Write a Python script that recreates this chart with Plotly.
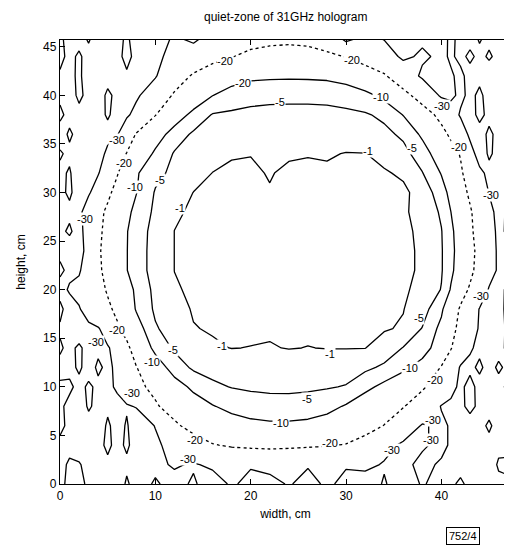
import plotly.graph_objects as go

# grid positions (cm): finer columns in the noisy side strips
x_cm = [0, 1, 2, 3, 4, 5, 6, 7, 8, 10, 12, 14, 16, 18, 20, 22, 24, 26, 28, 30, 32, 34, 36, 38,
        40, 41, 42, 43, 44, 45, 46, 47, 48]
y_cm = [0, 2, 4, 6, 8, 10, 12, 14, 16, 18, 20, 22, 24, 26, 28, 30, 32, 34, 36, 38, 40, 42, 44, 46]

# relative field level (dB), one row per height y_cm
level_db = [
    [-31, -29, -28.5, -31, -32, -31.5, -33, -29.3, -32, -29.5, -31.5, -29.4, -32.5, -29.3, -31.5, -32, -29.5, -32, -29, -31.5, -33, -29.5, -33, -29.5, -32, -31, -29, -31.5, -32, -30.5, -31, -31, -32],
    [-32, -29, -29.5, -32, -32, -31, -33, -31, -31.5, -31, -29.5, -30.5, -29, -28.5, -29.5, -28, -28.5, -29.5, -28, -29.5, -28.5, -30.5, -31, -29, -30.5, -31.5, -32, -31, -31, -32, -29.5, -28.8, -32],
    [-31, -32, -33, -31.5, -31.5, -29, -31.5, -29.2, -32, -31, -28, -24, -20.5, -19, -18.2, -18, -18.3, -18.8, -19.5, -20.4, -23, -28, -31, -30.5, -29, -30.5, -31.5, -32, -33, -31.5, -31, -32, -30],
    [-29, -31, -31, -32, -33, -29.2, -32, -29.5, -33, -29.8, -21.5, -17, -14, -12.5, -11.5, -11, -11, -11.5, -12.5, -14, -17, -20.2, -26, -30.5, -29, -30.5, -31, -32, -31.5, -29.2, -32, -31, -30],
    [-29, -31.5, -33, -29.3, -31.5, -31, -32, -30.5, -29.7, -21, -16.3, -12.8, -10.3, -8.5, -7.3, -6.8, -6.7, -7, -8.3, -10.5, -13.5, -16.5, -19.5, -25, -30.3, -31, -31, -28.8, -31, -32, -33, -31, -29],
    [-29.5, -29, -31.5, -29.2, -31, -31.5, -29, -26, -22, -17.9, -12.5, -8.8, -6, -4.8, -4.3, -4.1, -4.1, -4.3, -4.6, -5.3, -8.5, -11.5, -15, -18.8, -25, -28.5, -31, -28.5, -31.5, -32, -31.5, -29, -31],
    [-31, -31.5, -29.2, -32, -29.2, -31, -29, -25, -20.3, -13.3, -7.5, -4.2, -3.2, -2.8, -2.6, -2.5, -2.5, -2.5, -2.6, -2.8, -4, -5.8, -8.5, -12.7, -20.5, -26, -30.5, -31, -29.2, -31.5, -29.3, -31, -29.5],
    [-29.5, -31, -29.3, -31.5, -31, -30.5, -28, -22, -16, -8.4, -4.3, -2.5, -1.3, -0.95, -1.05, -1.15, -0.9, -1.05, -0.92, -0.92, -0.95, -2.3, -5.2, -6.8, -14, -19.5, -26, -29.5, -31, -32, -31.5, -29, -32],
    [-30.5, -31.5, -32.5, -31.5, -30.5, -27, -21, -17, -12.8, -5.5, -2.8, -1.1, -0.8, -0.7, -0.6, -0.7, -0.6, -0.6, -0.6, -0.6, -0.7, -0.75, -1.3, -5.2, -11.5, -16.5, -23, -27.5, -30.5, -32, -31.5, -29.2, -31],
    [-29, -32, -30.5, -27, -24, -21.3, -18.5, -14, -9.5, -4.2, -1.9, -0.8, -0.6, -0.5, -0.4, -0.4, -0.4, -0.4, -0.4, -0.5, -0.5, -0.6, -0.9, -2.9, -9, -15, -21, -25.5, -30.3, -31.5, -31, -29.2, -30.5],
    [-31.5, -29.5, -28, -25, -22.3, -19.3, -16, -12.3, -9, -3.7, -1.2, -0.7, -0.5, -0.4, -0.35, -0.3, -0.3, -0.3, -0.3, -0.35, -0.4, -0.5, -0.7, -1.6, -5.2, -10.5, -16.5, -21, -25.5, -30.5, -31.5, -29, -31.5],
    [-29.2, -31, -30.8, -26, -21.5, -17.5, -13.5, -10.2, -7, -3.4, -0.98, -0.7, -0.5, -0.4, -0.3, -0.3, -0.2, -0.2, -0.3, -0.3, -0.4, -0.5, -0.7, -1.2, -4.6, -8.8, -13, -18, -23, -27.5, -30.8, -32, -31],
    [-31, -32.5, -33, -27, -21, -17.3, -13.6, -10.2, -7, -3.4, -0.98, -0.7, -0.5, -0.4, -0.3, -0.3, -0.2, -0.2, -0.3, -0.3, -0.4, -0.5, -0.7, -1.2, -4.6, -8.5, -12.5, -17.5, -22.4, -27, -31, -32, -29],
    [-31, -29.3, -32, -27, -21.8, -17.5, -13.6, -10.3, -7.2, -3.5, -0.98, -0.7, -0.5, -0.4, -0.3, -0.3, -0.3, -0.3, -0.3, -0.4, -0.4, -0.5, -0.7, -1.3, -4.8, -8.8, -13, -18.3, -23.6, -28, -31, -29.3, -31.5],
    [-31.5, -31, -32, -25.5, -22, -18.7, -15.5, -11.5, -8.3, -4.1, -1.3, -0.7, -0.6, -0.5, -0.4, -0.4, -0.3, -0.3, -0.4, -0.4, -0.5, -0.6, -0.8, -1.5, -5.7, -10, -14.4, -19, -24, -28.5, -31.5, -29.2, -31],
    [-31, -29.3, -32, -31, -25.8, -21.5, -17.7, -14, -10.2, -4.6, -2.7, -0.95, -0.7, -0.6, -0.5, -0.9, -0.4, -0.4, -0.4, -0.5, -0.5, -0.6, -0.6, -1.8, -7.9, -11.5, -16.5, -21.5, -25.6, -30.2, -31.5, -32, -30.5],
    [-31, -29.5, -33, -32, -30.5, -25.5, -20.5, -15.5, -10.6, -6.3, -3.9, -2.2, -0.95, -0.8, -0.75, -1.1, -0.7, -0.6, -0.6, -0.6, -0.7, -0.8, -1.3, -4.8, -10.3, -14.5, -18.7, -24, -29, -31, -32, -31, -29],
    [-29.5, -31, -31, -32, -33, -28.5, -24.4, -19.7, -15.6, -8.9, -4.6, -3, -2, -1.1, -1.05, -1.5, -1.2, -1.1, -1.25, -0.9, -0.95, -1.6, -3.5, -7.5, -13.3, -17, -20.5, -28, -32, -29.5, -31, -31.5, -31],
    [-32, -29.3, -31.5, -30.5, -31, -32, -30.5, -25, -19.5, -13.2, -7.4, -4.3, -3.5, -3, -2.8, -2.7, -2.6, -2.6, -2.6, -2.5, -2.9, -3.8, -5.9, -11, -17.4, -21.5, -27, -31, -31.5, -29.3, -31, -32, -31],
    [-29, -31.5, -31, -31.5, -32, -29.3, -32, -31, -28, -20.3, -13.5, -8.3, -4.7, -4.2, -3.9, -3.8, -3.8, -3.8, -3.9, -4.1, -4.5, -6, -10.2, -15.7, -22.5, -27.5, -30.5, -31.5, -29, -31, -32, -31.5, -30],
    [-31, -31.5, -29.3, -31, -32, -29.2, -31, -32, -31, -26, -19, -14.4, -10.1, -7.8, -6.5, -6.1, -6, -6, -6.1, -6.8, -8.5, -11.4, -17.1, -24, -31, -31, -29, -31, -29.2, -31.5, -32, -29.3, -31],
    [-30.5, -31, -29.3, -32, -31, -31.5, -32, -30.5, -33, -30.5, -24.3, -19, -15, -12.5, -11.2, -10.9, -10.8, -10.9, -11.2, -12.5, -15, -19, -26, -31, -31, -30.5, -29, -31.5, -31, -32, -32, -31, -29],
    [-29, -31, -29.4, -31.5, -32, -31, -31, -29, -31, -31, -28.6, -25.7, -22.9, -20.3, -18, -17, -16.8, -17.2, -18.5, -20.3, -24, -27.3, -31, -29.2, -31, -29.4, -31, -29.2, -31, -29.5, -31, -30.5, -32],
    [-29.5, -31, -31.5, -29.3, -32, -31.5, -31, -29.5, -31.5, -32, -29.5, -32, -27.5, -25, -23.5, -22.5, -22, -22.5, -24.5, -33, -29, -30.5, -32, -31, -31.5, -29.2, -31, -31.5, -29.5, -31, -32, -29.5, -31],
]

solid_levels = [-30, -10, -5, -1]
dotted_levels = [-20]

# contour labels as printed on the reference (position in cm, text)
label_x = [17.3, 30.6, 19.2, 33.7, 23.1, 40.1, 6.0, 32.3, 36.9, 41.8, 6.7, 7.9, 10.5, 45.2, 2.6, 12.6,
           44.2, 6.0, 3.8, 17.0, 11.8, 28.3, 37.7, 9.7, 36.7, 39.3, 7.5, 25.9, 23.2, 39.1, 14.2, 28.3,
           38.9, 34.8, 13.4]
label_y = [43.5, 43.6, 41.3, 39.8, 39.3, 38.9, 35.4, 34.3, 34.6, 34.7, 33.0, 30.6, 31.3, 29.7, 27.3, 28.4,
           19.3, 15.8, 14.6, 14.2, 13.8, 13.4, 17.1, 12.6, 11.9, 10.7, 9.4, 8.8, 6.3, 6.6, 4.5, 4.2,
           4.5, 3.5, 2.6]
label_text = ["-20", "-20", "-20", "-10", "-5", "-30", "-30", "-1", "-5", "-20", "-20", "-10", "-5", "-30", "-30", "-1",
              "-30", "-20", "-30", "-1", "-5", "-1", "-5", "-10", "-10", "-20", "-30", "-5", "-10", "-30", "-20", "-20",
              "-30", "-30", "-30"]

x_ticks = [0, 10, 20, 30, 40]
y_ticks = [0, 5, 10, 15, 20, 25, 30, 35, 40, 45]

FONT = "Liberation Sans, Arial, Helvetica, sans-serif"

fig = go.Figure()


def add_level(lvl, dash):
    fig.add_trace(go.Contour(
        x=x_cm, y=y_cm, z=level_db,
        autocontour=False,
        contours=dict(start=lvl, end=lvl, size=1, coloring="none", showlabels=False),
        line=dict(color="black", width=1.3, dash=dash, smoothing=0),
        showscale=False, hoverinfo="skip",
    ))


for lvl in solid_levels:
    add_level(lvl, "solid")
for lvl in dotted_levels:
    add_level(lvl, "dot")

annotations = [
    dict(x=lx, y=ly, xref="x", yref="y", text=lt, showarrow=False,
         font=dict(family=FONT, size=11, color="black"),
         bgcolor="white", borderpad=0, xanchor="center", yanchor="middle")
    for lx, ly, lt in zip(label_x, label_y, label_text)
]
annotations.append(dict(text="752/4", xref="paper", yref="paper", x=0.894, y=-0.117,
                        xanchor="center", yanchor="middle", showarrow=False,
                        font=dict(family=FONT, size=11, color="black"),
                        bordercolor="black", borderwidth=1, borderpad=2, bgcolor="white"))

axis_common = dict(
    showline=True, linecolor="black", linewidth=1.3, mirror="ticks",
    ticks="inside", ticklen=5, tickwidth=1, tickcolor="black",
    showgrid=False, zeroline=False,
    tickfont=dict(family=FONT, size=12, color="black"),
)

fig.update_layout(
    width=504, height=538,
    margin=dict(l=52, r=1, t=32, b=62),
    paper_bgcolor="white", plot_bgcolor="white",
    showlegend=False,
    title=dict(text="quiet-zone of 31GHz hologram", x=0.551, xanchor="center",
               y=0.984, yanchor="middle",
               font=dict(family=FONT, size=12, color="black")),
    xaxis=dict(range=[0, 47.3], tickvals=x_ticks,
               title=dict(text="width, cm", font=dict(family=FONT, size=12, color="black"), standoff=8),
               **axis_common),
    yaxis=dict(range=[0, 45.7], tickvals=y_ticks,
               title=dict(text="height, cm", font=dict(family=FONT, size=12, color="black"), standoff=14),
               **axis_common),
    annotations=annotations,
)

fig.write_html("out.html")
